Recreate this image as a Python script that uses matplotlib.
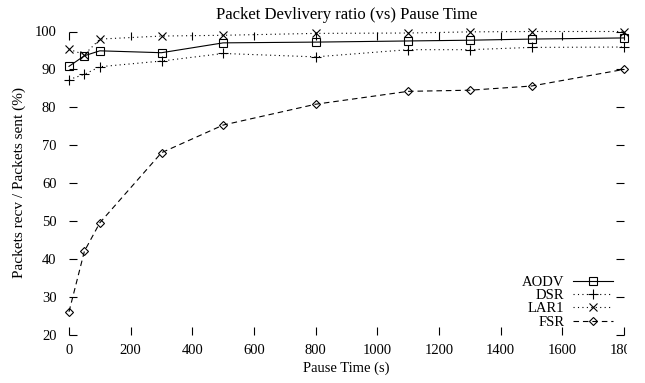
import matplotlib
matplotlib.use("Agg")
import matplotlib.pyplot as plt
from matplotlib.transforms import Bbox, TransformedBbox

plt.rcParams['font.family'] = ['Liberation Serif', 'DejaVu Serif']
plt.rcParams['font.size'] = 10

pause = [0, 50, 100, 300, 500, 800, 1100, 1300, 1500, 1800]
aodv = [90.8, 93.6, 94.9, 94.4, 97.0, 97.2, 97.5, 97.7, 98.0, 98.3]
dsr = [87.3, 88.7, 90.7, 92.2, 94.2, 93.3, 95.2, 95.2, 95.8, 95.9]
lar1 = [95.3, 93.9, 98.0, 98.8, 99.0, 99.5, 99.6, 99.9, 100.0, 100.0]
fsr = [26.0, 42.0, 49.5, 68.0, 75.3, 80.8, 84.2, 84.5, 85.6, 90.0]

xticks = list(range(0, 1801, 200))
yticks = list(range(20, 101, 10))

fig = plt.figure(figsize=(6.45, 3.83), dpi=100)
ax = fig.add_axes([69/645, 1 - 334.5/383, (624 - 69)/645, (334.5 - 31.5)/383])

lw = 0.8
common = dict(color='black', lw=lw, mew=lw, clip_on=False)
ax.plot(pause, aodv, ls='-', marker='s', ms=5.5, mfc='none', label='AODV', **common)
ax.plot(pause, dsr, ls=(0, (1, 3)), marker='+', ms=6.5, label='DSR', **common)
ax.plot(pause, lar1, ls=(0, (1, 3)), marker='x', ms=5.5, label='LAR1', **common)
ax.plot(pause, fsr, ls=(0, (5, 3.5)), marker='D', ms=4.5, mfc='none', label='FSR', **common)

ax.set_xlim(0, 1800)
ax.set_ylim(20, 100)
ax.set_xticks(xticks)
ax.set_yticks(yticks)
for s in ax.spines.values():
    s.set_visible(False)
ax.tick_params(direction='in', length=6, width=0.8, top=True, right=True,
               labeltop=False, labelright=False, labelsize=10.5)
ax.tick_params(axis='y', pad=9)
ax.tick_params(axis='x', pad=7)

ax.set_title('Packet Devlivery ratio (vs) Pause Time', pad=9)
ax.set_xlabel('Pause Time (s)', labelpad=3, fontsize=10.5)
ax.set_ylabel('Packets recv / Packets sent (%)', labelpad=6, fontsize=11)

leg = ax.legend(loc='lower right', markerfirst=False, frameon=False,
                handlelength=2.7, handletextpad=0.6, labelspacing=0.0,
                borderaxespad=0.0, bbox_to_anchor=(0.99, 0.0), fontsize=10.5)

# the last x label runs off the canvas edge
clip = TransformedBbox(Bbox([[0, 0], [627/645, 1]]), fig.transFigure)
last = ax.xaxis.get_major_ticks()[-1].label1
last.set_clip_box(clip)
last.set_clip_on(True)

fig.savefig('out.png', dpi=100)
